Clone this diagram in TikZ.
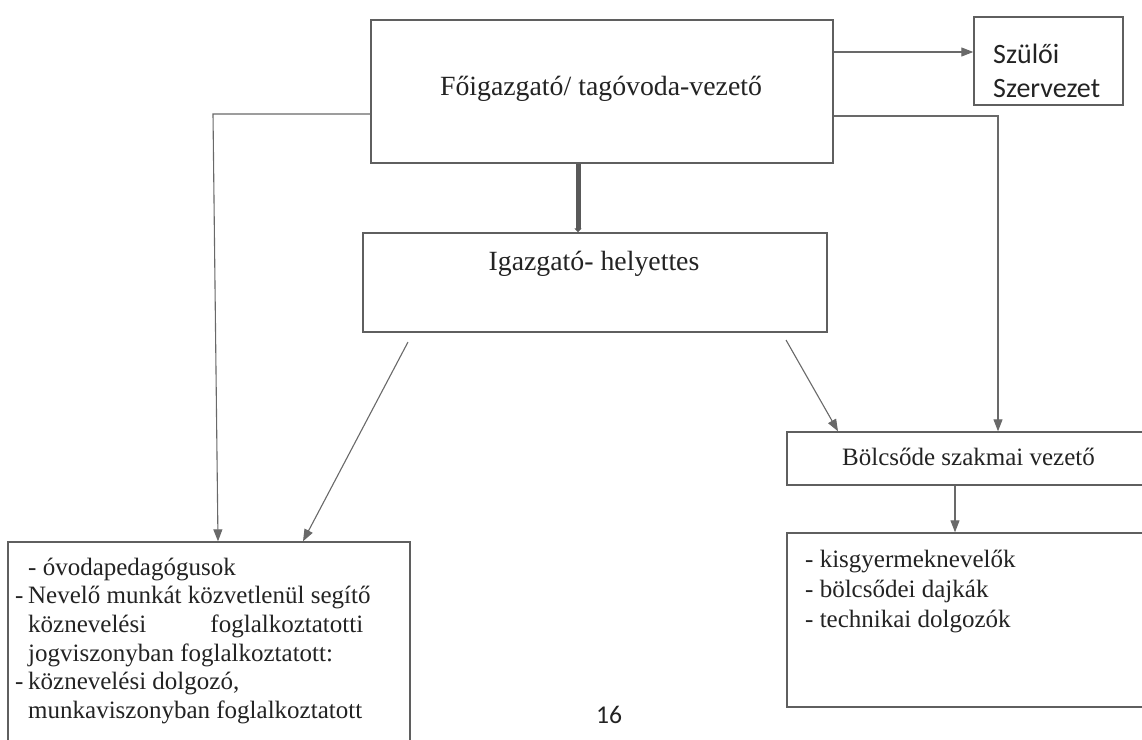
\documentclass[tikz,border=0pt]{standalone}
\usepackage{fontspec}
\setmainfont{Liberation Serif}
\newfontfamily\carlito{Carlito}
\usetikzlibrary{arrows.meta}
\definecolor{ln}{RGB}{105,105,105}
\definecolor{bx}{RGB}{95,95,95}
\definecolor{tx}{RGB}{35,35,35}
\begin{document}
\begin{tikzpicture}[x=1pt,y=-1pt,
  box/.style={draw=bx, line width=1.4pt, inner sep=0pt},
  conn/.style={draw=ln, line width=1.1pt, -{Triangle[length=12pt,width=9pt]}},
  thickconn/.style={draw=ln!85!black, line width=5pt, -{Triangle[length=4pt,width=7pt]}},
  big/.style={font=\fontsize{27.8}{33}\selectfont, text=tx, anchor=base, inner sep=0pt},
  mid/.style={font=\fontsize{25}{29}\selectfont, text=tx, anchor=base, inner sep=0pt},
  lst/.style={font=\fontsize{25}{29}\selectfont, text=tx, anchor=base west, inner sep=0pt},
  sans/.style={font=\carlito\fontsize{28}{34}\selectfont, text=tx, anchor=base west, inner sep=0pt}]
\useasboundingbox (0,0) rectangle (1142,739);
\fill[white] (0,0) rectangle (1142,739);
\clip (0,0) rectangle (1142,739);

% boxes
\node[box, minimum width=462, minimum height=143] (top) at (602,91.5) {};
\node[big] (toptx) at (601,95) {Főigazgató/ tagóvoda-vezető};
\node[box, minimum width=149, minimum height=88] (szulo) at (1048.5,61) {};
\node[sans] (szt1) at (993,63) {Szülői};
\node[sans] (szt2) at (993,97) {Szervezet};
\node[box, minimum width=464, minimum height=99] (igh) at (595,282.5) {};
\node[big] (ightx) at (594,270) {Igazgató- helyettes};
\node[box, minimum width=363, minimum height=53] (bolcs) at (968.5,458.5) {};
\node[mid] (bolcstx) at (968.5,465) {Bölcsőde szakmai vezető};
\node[box, minimum width=363, minimum height=174] (rlist) at (968.5,620) {};
\node[lst] (r1) at (805,567) {- kisgyermeknevelők};
\node[lst] (r2) at (805,597) {- bölcsődei dajkák};
\node[lst] (r3) at (805,627) {- technikai dolgozók};
\node[box, minimum width=402, minimum height=218] (llist) at (209,651) {};
\node[lst] (l1) at (28,575) {- óvodapedagógusok};
\node[lst] (l2) at (15,603.6) {\makebox[13pt][l]{-}Nevelő munkát közvetlenül segítő};
\node[lst] (l3) at (28,632) {\hbox to 335pt{köznevelési\hfill foglalkoztatotti}};
\node[lst] (l4) at (28,661) {jogviszonyban foglalkoztatott:};
\node[lst] (l5) at (15,689.5) {\makebox[13pt][l]{-}köznevelési dolgozó,};
\node[lst] (l6) at (28,718) {munkaviszonyban foglalkoztatott};
\node[font=\carlito\fontsize{25.6}{30}\selectfont, text=tx, anchor=base, inner sep=0pt] (pg) at (609,723) {16};

% connectors
\coordinate (sz) at (900,52);
\draw[conn] (top.east |- sz) -- (szulo.west |- sz);
\coordinate (tk) at (578,0);
\draw[thickconn] (top.south -| tk) -- (igh.north -| tk);
\coordinate (lc) at (213,114);
\draw[conn] (top.west |- lc) -- (lc) -- ([xshift=5pt]lc |- llist.north);
\coordinate (rc) at (998,116);
\draw[conn] (top.east |- rc) -- (rc) -- (rc |- bolcs.north);
\coordinate (d1) at (408,342);
\coordinate (d1e) at (303,0);
\draw[conn] (d1) -- (llist.north -| d1e);
\coordinate (d2) at (786,340);
\coordinate (d2e) at (838,0);
\draw[conn] (d2) -- (bolcs.north -| d2e);
\coordinate (bb) at (955,0);
\draw[conn] (bolcs.south -| bb) -- (rlist.north -| bb);
\end{tikzpicture}
\end{document}
